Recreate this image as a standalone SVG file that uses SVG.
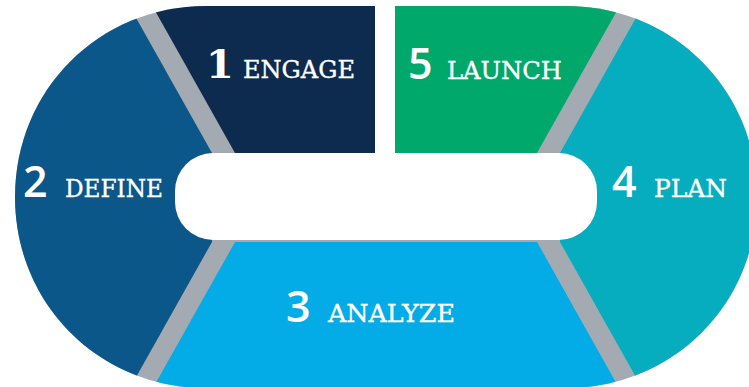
<svg xmlns="http://www.w3.org/2000/svg" width="749" height="387" viewBox="0 0 749 387">
  <defs>
    <clipPath id="ring">
      <path d="M206 6 H566 C673 6 757 90 757 197 C757 304 673 388 566 388 H206 C99 388 15 304 15 197 C15 90 99 6 206 6 Z"/>
    </clipPath>
  </defs>
  <style>
    .num { font-family: "Open Sans", "DejaVu Sans", sans-serif; font-weight: 600; font-size: 43px; fill: #ffffff; }
    .num.slab { font-family: "DejaVu Serif", "Liberation Serif", serif; font-weight: 700; font-size: 40px; }
    .lbl { font-family: "DejaVu Serif", "Liberation Serif", serif; font-size: 24px; fill: #ffffff; stroke: #ffffff; stroke-width: 0.35px; }
    .sep { fill: #a4aab1; }
  </style>
  <rect width="749" height="387" fill="#ffffff"/>

  <g clip-path="url(#ring)">
    <!-- grey separators show through between the segments -->
    <g id="separators">
      <rect class="sep" x="0" y="0" width="760" height="395"/>
    </g>

    <g id="engage">
      <polygon points="149,0 375,0 375,153 235,153" fill="#0d2a4f"/>
    </g>
    <g id="define">
      <polygon points="0,0 126,0 212,153 212,242 126,395 0,395" fill="#0b578a"/>
    </g>
    <g id="analyze">
      <polygon points="149,395 235,242 537,242 623,395" fill="#03ace6"/>
    </g>
    <g id="plan">
      <polygon points="646,0 760,0 760,395 646,395 560,242 560,153" fill="#05adbf"/>
    </g>
    <g id="launch">
      <polygon points="395,0 623,0 537,153 395,153" fill="#00a86b"/>
    </g>
  </g>

  <!-- centre opening and the slot between the first and last segments -->
  <rect x="375" y="0" width="20" height="160" fill="#ffffff"/>
  <rect x="175" y="153" width="422" height="87" rx="38" ry="38" fill="#ffffff"/>

  <g id="labels">
    <g id="label-engage">
      <text class="num slab" x="206" y="78">1</text>
      <text class="lbl" x="243" y="78" textLength="112" lengthAdjust="spacingAndGlyphs">ENGAGE</text>
    </g>
    <g id="label-launch">
      <text class="num" x="408" y="79">5</text>
      <text class="lbl" x="447" y="79" textLength="115" lengthAdjust="spacingAndGlyphs">LAUNCH</text>
    </g>
    <g id="label-define">
      <text class="num" x="23" y="197">2</text>
      <text class="lbl" x="65" y="197" textLength="98" lengthAdjust="spacingAndGlyphs">DEFINE</text>
    </g>
    <g id="label-plan">
      <text class="num" x="612" y="197">4</text>
      <text class="lbl" x="654" y="197" textLength="73" lengthAdjust="spacingAndGlyphs">PLAN</text>
    </g>
    <g id="label-analyze">
      <text class="num" x="286" y="322">3</text>
      <text class="lbl" x="328" y="322" textLength="127" lengthAdjust="spacingAndGlyphs">ANALYZE</text>
    </g>
  </g>
</svg>
